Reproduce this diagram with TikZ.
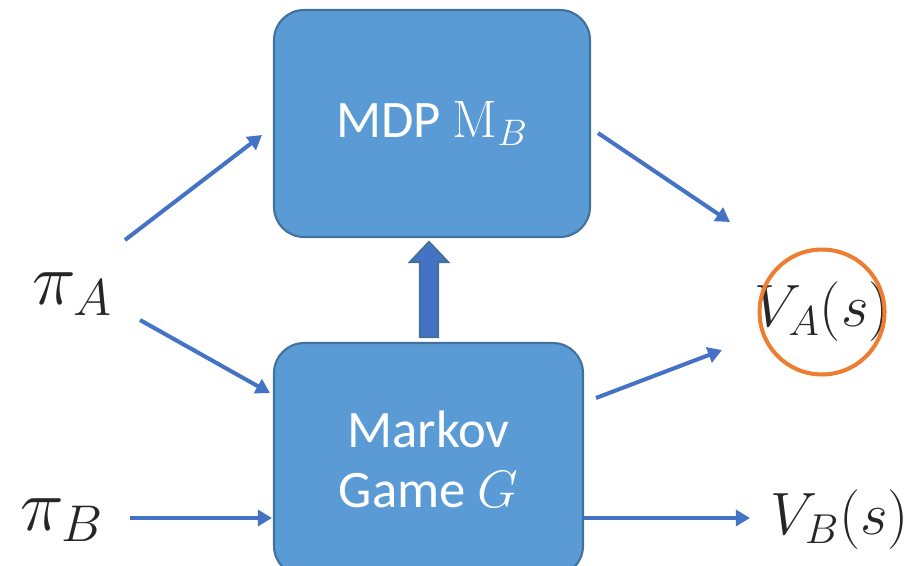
\RequirePackage{fix-cm}
\documentclass[tikz,border=0pt]{standalone}
\usepackage[no-math]{fontspec}
\setmainfont{Carlito}
\usetikzlibrary{arrows.meta}
\definecolor{boxfill}{HTML}{5B9BD5}
\definecolor{boxline}{HTML}{41719C}
\definecolor{arrowblue}{HTML}{4472C4}
\definecolor{ringorange}{HTML}{ED7D31}
\tikzset{
	block/.style={draw=boxline, line width=1.2pt, fill=boxfill, rounded corners=0.6cm, text=white, font=\fontsize{30}{36}\selectfont, align=center, inner sep=0pt},
	flow/.style={draw=arrowblue, line width=2.3pt, -{Triangle[length=8pt,width=9pt]}},
	sym/.style={text=black!85, font=\fontsize{34}{40}\selectfont, inner sep=0pt},
	policy/.style={sym, font=\fontsize{42}{48}\selectfont}
}
\begin{document}
\begin{tikzpicture}[x=0.02cm,y=-0.02cm]
	\useasboundingbox (0,0) rectangle (908,565);
	\clip (0,0) rectangle (908,565);
	% Boxes
	\node[block, minimum width=6.32cm, minimum height=4.54cm] (mdp) at (432,123.5) {MDP $\mathrm{M}_B$};
	\node[block, minimum width=6.18cm, minimum height=4.66cm] (game) at (428.5,459.5) {Markov\\[-2pt]Game $G$};
	% Block Arrow
	\draw[boxline, fill=arrowblue, line width=1.2pt] (420,337) -- (420,262) -- (410,262) -- (429,242) -- (448,262) -- (438,262) -- (438,337) -- cycle;
	% Symbols
	\node[policy] (pia) at (72,294) {$\pi_A$};
	\node[policy] (pib) at (62,520) {$\pi_B$};
	\node[sym] (va) at (822,312) {$V_A(s)$};
	\node[sym] (vb) at (840,520) {$V_B(s)$};
	\node[draw=ringorange, line width=2.3pt, circle, minimum size=2.5cm] (ring) at (va) {};
	% Left-hand Arrows
	\coordinate (a1s) at (125,240);
	\coordinate (a1e) at (262,135);
	\draw[flow] (a1s) -- (a1e);
	\coordinate (a2s) at (140,320);
	\coordinate (a2e) at (270,393);
	\draw[flow] (a2s) -- (a2e);
	\coordinate (b1s) at (130,518);
	\coordinate (b1e) at (272,518);
	\draw[flow] (b1s) -- (b1e);
	% Right-hand Arrows
	\coordinate (o1s) at (598,133);
	\coordinate (o1e) at (730,222);
	\draw[flow] (o1s) -- (o1e);
	\coordinate (o2s) at (596,398);
	\coordinate (o2e) at (722,350);
	\draw[flow] (o2s) -- (o2e);
	\coordinate (o3s) at (584,518);
	\coordinate (o3e) at (750,518);
	\draw[flow] (o3s) -- (o3e);
\end{tikzpicture}
\end{document}
